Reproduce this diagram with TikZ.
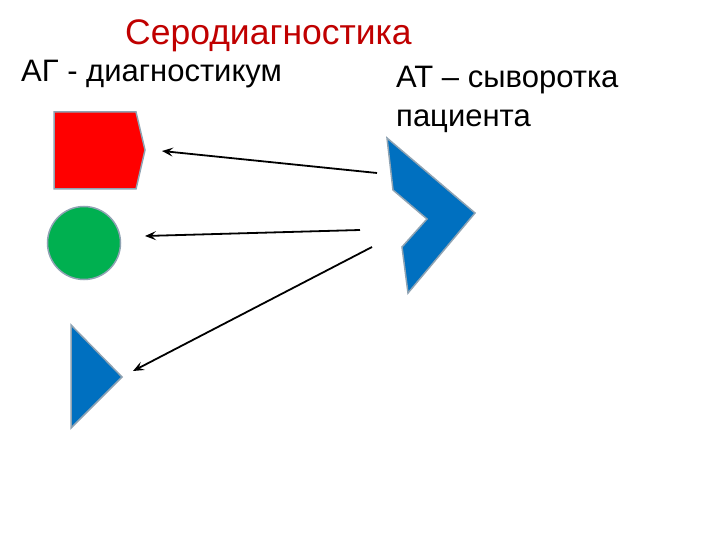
\documentclass[tikz,border=0pt]{standalone}
\usepackage{fontspec}
\setmainfont{Liberation Sans}
\usetikzlibrary{arrows.meta}
\definecolor{titlered}{HTML}{C00000}
\definecolor{shred}{HTML}{FF0000}
\definecolor{shgreen}{HTML}{00B050}
\definecolor{shblue}{HTML}{0070C0}
\definecolor{edgegray}{HTML}{8FA3B3}
\begin{document}
\begin{tikzpicture}[x=1pt,y=-1pt,
  lbl/.style={anchor=base west,inner sep=0pt,font=\fontsize{31}{37}\selectfont},
  ttl/.style={anchor=base west,inner sep=0pt,text=titlered,font=\fontsize{35.5}{42}\selectfont},
  shp/.style={draw=edgegray,line width=1.5pt,line join=miter},
  conn/.style={draw=black,line width=1.8pt,-{Stealth[length=11pt,width=9pt,inset=4.5pt]}}]
\useasboundingbox (0,0) rectangle (720,540);
\fill[white] (0,0) rectangle (720,540);
% texts
\node[ttl] (title) at (125,45) {Серодиагностика};
\node[lbl] (ag) at (21,82) {АГ - диагностикум};
\node[lbl] (at1) at (396,88) {АТ – сыворотка};
\node[lbl] (at2) at (396,127) {пациента};
% shapes
\path[shp,fill=shred] (54,112) -- (136,112) -- (145,150) -- (136,189) -- (54,189) -- cycle;
\node[shp,fill=shgreen,circle,minimum size=73pt,inner sep=0pt] (circ) at (84,243) {};
\path[shp,fill=shblue] (71,325) -- (122,377) -- (71,428) -- cycle;
\path[shp,fill=shblue] (387,138) -- (475,213) -- (408,293) -- (402,247) -- (427,219) -- (393,190) -- cycle;
% connector ends
\coordinate (s1) at (377,173);
\coordinate (e1) at (162,151);
\coordinate (s2) at (360,230);
\coordinate (e2) at (145,236);
\coordinate (s3) at (372,247);
\coordinate (e3) at (133,371);
\draw[conn] (s1) -- (e1);
\draw[conn] (s2) -- (e2);
\draw[conn] (s3) -- (e3);
\end{tikzpicture}
\end{document}
